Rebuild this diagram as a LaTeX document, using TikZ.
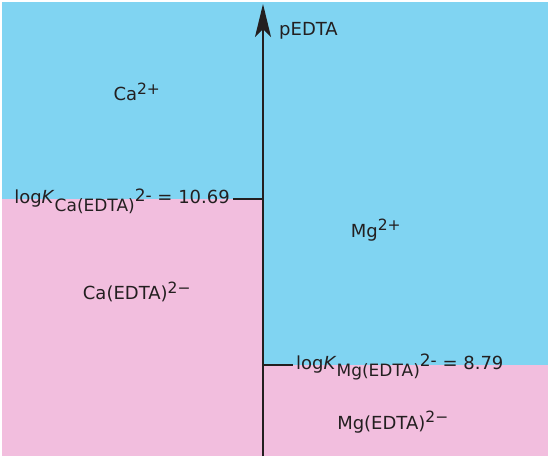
\documentclass[tikz,border=0pt]{standalone}
\usepackage{fontspec}
\setmainfont{DejaVu Sans}
\usetikzlibrary{arrows.meta,positioning}

\definecolor{freeblue}{RGB}{128,212,242}
\definecolor{complexpink}{RGB}{242,190,222}
\definecolor{axisgray}{RGB}{35,31,32}

% log K label with subscript and charge
\newcommand{\logkey}[2]{log\textit{K}\raisebox{-0.75ex}{\fontsize{17}{19}\selectfont #1(EDTA)}\raisebox{0.25ex}{\fontsize{17}{19}\selectfont 2-} = #2}
\newcommand{\chg}[1]{\textsuperscript{\fontsize{15.5}{18}\selectfont #1}}

\begin{document}
\begin{tikzpicture}
  [
  x=1pt, y=-1pt, font=\fontsize{18}{21}\selectfont,
  axis/.style={draw=axisgray, line width=2pt, -{Stealth[length=33pt,width=16pt,inset=8pt]}},
  tickmark/.style={draw=axisgray, line width=2pt},
  species/.style={text=axisgray, inner sep=0pt},
  keylabel/.style={text=axisgray, inner sep=3pt}
  ]

\useasboundingbox (0,0) rectangle (550,458);

% predominance regions
\fill[freeblue] (2,2) rectangle (548,456);
\fill[complexpink] (2,199) rectangle (263,456);
\fill[complexpink] (263,365) rectangle (548,456);

% axis
\coordinate (bottom) at (263,456);
\coordinate (top) at (263,4);
\draw[axis] (bottom) -- (top);
\node[species, anchor=west] (ped) at (279,31) {pEDTA};

% stability constants
\coordinate (catick) at (263,199);
\coordinate (mgtick) at (263,365);
\node[keylabel, anchor=east] (cakey) at (233,201) {\logkey{Ca}{10.69}};
\node[keylabel, anchor=west] (mgkey) at (293,367) {\logkey{Mg}{8.79}};
\draw[tickmark] (catick) -- (catick -| cakey.east);
\draw[tickmark] (mgtick) -- (mgtick -| mgkey.west);

% species
\node[species] (ca) at (137,92) {Ca\chg{2+}};
\node[species] (caedta) at (137,292) {Ca(EDTA)\chg{2−}};
\node[species] (mg) at (376,230) {Mg\chg{2+}};
\node[species] (mgedta) at (393,422) {Mg(EDTA)\chg{2−}};

\end{tikzpicture}
\end{document}
